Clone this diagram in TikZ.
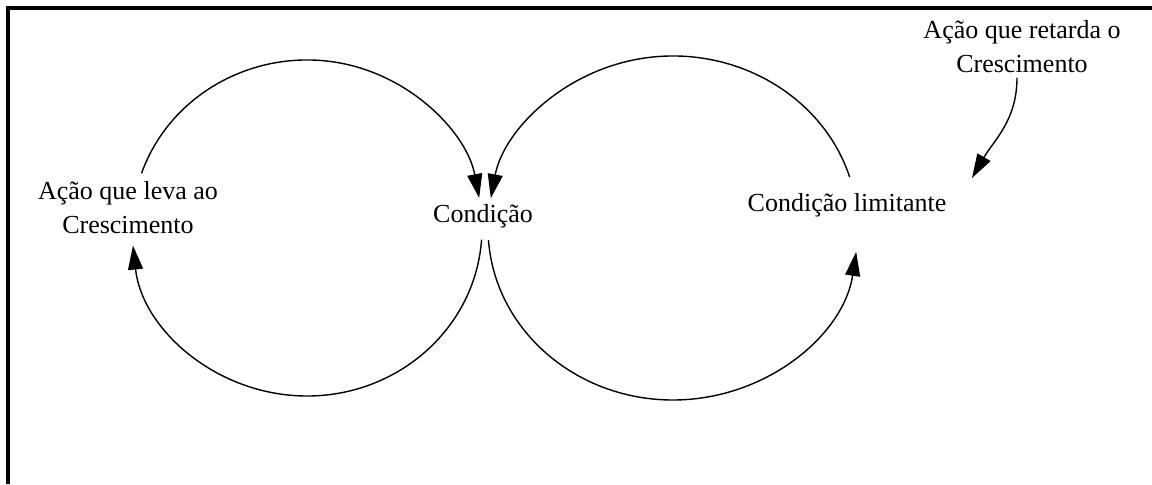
\documentclass[tikz,border=0pt]{standalone}
\usepackage{fontspec}
\setmainfont{Liberation Serif}
\usetikzlibrary{arrows.meta,positioning,calc}

\begin{document}
\begin{tikzpicture}[x=0.5pt,y=0.5pt,
    lbl/.style={align=center,font=\fontsize{13}{17}\selectfont,inner sep=2pt},
    loop/.style={line width=0.7pt,-{Triangle[length=12pt,width=7.5pt]}},
    frame/.style={line width=2pt}]
  \useasboundingbox (0,0) rectangle (1152,484);
  \draw[frame] (7.5,0) -- (7.5,476.5) -- (1152,476.5);
  \coordinate (lc) at (307,256);
  \coordinate (rc) at (673,256);
  \node[lbl] (grow) at (128,276) {Ação que leva ao\\Crescimento};
  \node[lbl] (cond) at (483,268) {Condição};
  \node[lbl] (limit) at (847,279) {Condição limitante};
  \node[lbl] (delay) at (1022,437) {Ação que retarda o\\Crescimento};
  \coordinate (dend) at (972,306);
  % left loop
  \draw[loop] ($(lc)+(161:175 and 168)$) arc[start angle=161,end angle=10.3,x radius=175,y radius=168];
  \draw[loop] ($(lc)+(-4:175 and 168)$) arc[start angle=-4,end angle=-174,x radius=175,y radius=168];
  % right loop
  \draw[loop] ($(rc)+(17.2:185 and 172)$) arc[start angle=17.2,end angle=170,x radius=185,y radius=172];
  \draw[loop] ($(rc)+(184:185 and 172)$) arc[start angle=184,end angle=352,x radius=185,y radius=172];
  \draw[loop] ([xshift=-2.5pt]delay.south) to[out=-90,in=60] (dend);
\end{tikzpicture}
\end{document}
